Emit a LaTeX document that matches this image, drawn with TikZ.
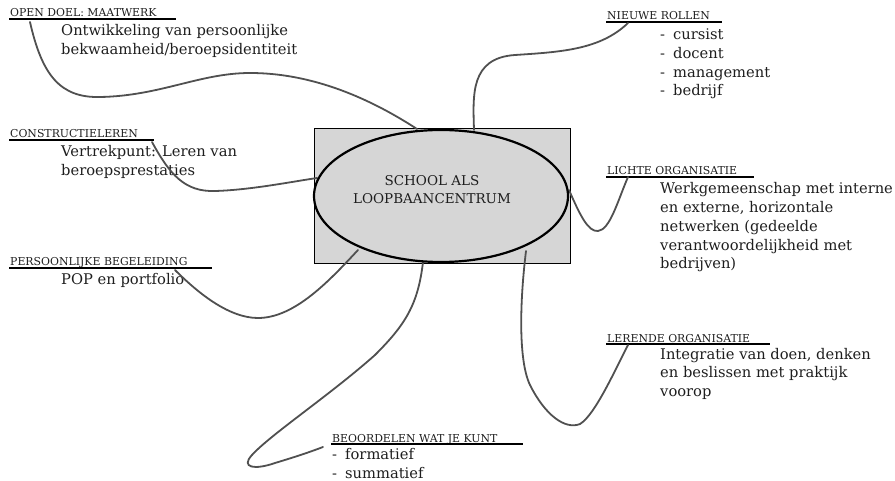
\documentclass[tikz,border=0pt]{standalone}
\usepackage{fontspec}
\setmainfont{DejaVu Serif}
\usetikzlibrary{shapes.geometric,calc}
\definecolor{boxgray}{RGB}{214,214,214}
\definecolor{conngray}{RGB}{80,80,80}
\definecolor{txt}{RGB}{30,30,30}
\tikzset{
  hd/.style={anchor=base west,inner sep=0pt,text=txt,font=\fontsize{10.9}{13}\selectfont},
  bd/.style={anchor=base west,inner sep=0pt,text=txt,align=left,font=\fontsize{14.7}{18.7}\selectfont},
  ul/.style={draw=black,line width=1.4pt},
  conn/.style={draw=conngray,line width=1.8pt,line cap=round},
  ctr/.style={anchor=base,inner sep=0pt,text=txt,align=center,font=\fontsize{13.5}{18}\selectfont}
}
\newcommand{\dashitem}[1]{\makebox[13pt][l]{-}#1}
\begin{document}
\begin{tikzpicture}[x=1pt,y=-1pt]
\useasboundingbox (0,0) rectangle (895,481);
% central box
\node[draw=black,line width=1pt,fill=boxgray,minimum width=256pt,minimum height=135pt,inner sep=0pt] (R) at (442,196.5) {};
% headings
\node[hd] (h1) at (10,17) {OPEN DOEL: MAATWERK};
\node[hd] (h2) at (10,138) {CONSTRUCTIELEREN};
\node[hd] (h3) at (10,266) {PERSOONLIJKE BEGELEIDING};
\node[hd] (h4) at (332,442) {BEOORDELEN WAT JE KUNT};
\node[hd] (h5) at (607,20) {NIEUWE ROLLEN};
\node[hd] (h6) at (607,175) {LICHTE ORGANISATIE};
\node[hd] (h7) at (607,342) {LERENDE ORGANISATIE};
% underlines
\draw[ul] ($(h1.base west)+(-1,2)$) -- (176,19);
\draw[ul] ($(h2.base west)+(-1,2)$) -- (154,140);
\draw[ul] ($(h3.base west)+(-1,2)$) -- (212,268);
\draw[ul] ($(h4.base west)+(-1,2)$) -- (523,444);
\draw[ul] ($(h5.base west)+(-1,2)$) -- (722,22);
\draw[ul] ($(h6.base west)+(-1,2)$) -- (754,177);
\draw[ul] ($(h7.base west)+(-1,2)$) -- (770,344);
% bodies (anchored at the baseline of their last line)
\node[bd] (b1) at (61,54.7) {Ontwikkeling van persoonlijke\\bekwaamheid/beroepsidentiteit};
\node[bd] (b2) at (61,175.7) {Vertrekpunt: Leren van\\beroepsprestaties};
\node[bd] (b3) at (61,285) {POP en portfolio};
\node[bd] (b4) at (332,478.5) {\dashitem{formatief}\\\dashitem{summatief}};
\node[bd] (b5) at (660,96) {\dashitem{cursist}\\\dashitem{docent}\\\dashitem{management}\\\dashitem{bedrijf}};
\node[bd] (b6) at (660,268.8) {Werkgemeenschap met interne\\en externe, horizontale\\netwerken (gedeelde\\verantwoordelijkheid met\\bedrijven)};
\node[bd] (b7) at (660,396.4) {Integratie van doen, denken\\en beslissen met praktijk\\voorop};
% connector endpoints
\coordinate (s1) at (30,22);   \coordinate (e1) at (417,129);
\coordinate (s2) at (152,142); \coordinate (e2) at (317,178);
\coordinate (s3) at (175,270); \coordinate (e3) at (358,250);
\coordinate (s4) at (323,447); \coordinate (e4) at (423,262);
\coordinate (s5) at (628,23);  \coordinate (e5) at (474,130);
\coordinate (s6) at (628,177); \coordinate (e6) at (569,190);
\coordinate (s7) at (628,345); \coordinate (e7) at (526,251);
% connectors
\draw[conn] (s1) .. controls (42,75) and (60,98) .. (100,97)
  .. controls (160,96) and (200,73) .. (250,73)
  .. controls (320,73) and (380,105) .. (e1);
\draw[conn] (s2) .. controls (170,175) and (185,192) .. (215,191)
  .. controls (250,190) and (290,182) .. (e2);
\draw[conn] (s3) .. controls (200,295) and (230,318) .. (258,318)
  .. controls (295,318) and (330,280) .. (e3);
\draw[conn] (e4) .. controls (418,305) and (405,325) .. (375,355)
  .. controls (330,395) and (270,435) .. (252,455)
  .. controls (240,468) and (255,470) .. (275,463)
  .. controls (295,457) and (310,452) .. (s4);
\draw[conn] (e5) .. controls (473,95) and (470,58) .. (515,55)
  .. controls (560,52) and (600,50) .. (s5);
\draw[conn] (e6) .. controls (580,215) and (588,232) .. (598,231)
  .. controls (610,230) and (618,200) .. (s6);
\draw[conn] (e7) .. controls (520,300) and (518,360) .. (530,385)
  .. controls (545,415) and (565,430) .. (580,424)
  .. controls (595,415) and (615,370) .. (s7);
% ellipse
\node[ellipse,draw=black,line width=2.2pt,fill=boxgray,minimum width=254pt,minimum height=132pt,inner sep=0pt] (E) at (441,196) {};
\node[ctr] (T) at (432,204) {SCHOOL ALS\\LOOPBAANCENTRUM};
\end{tikzpicture}
\end{document}
